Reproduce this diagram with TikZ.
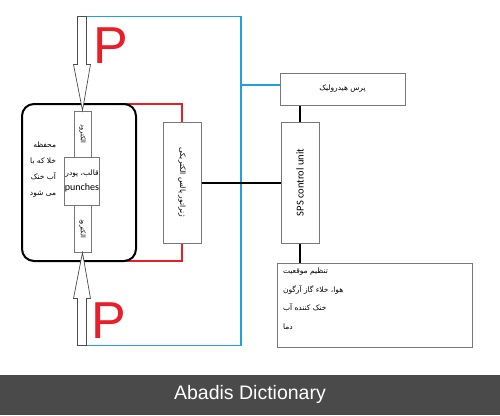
\documentclass[tikz,border=0pt]{standalone}
\usepackage{fontspec}
\setmainfont{Carlito}
\newfontfamily\fafont[Script=Arabic]{DejaVu Sans}
\newfontfamily\bannerfont{Liberation Sans}
\TeXXeTstate=1
\usetikzlibrary{calc}
\definecolor{pipeblue}{RGB}{30,160,225}
\definecolor{pred}{RGB}{232,30,40}
\definecolor{boxgray}{RGB}{120,120,120}
\definecolor{bannergray}{RGB}{74,74,74}
\newcommand{\fa}[1]{{\fafont\beginR #1\endR}}
\tikzset{
  graybox/.style={draw=boxgray, line width=1pt, fill=white, inner sep=0pt},
  blackline/.style={line width=2pt},
  blueline/.style={draw=pipeblue, line width=1.5pt},
  redline/.style={draw=pred, line width=1.4pt},
  hollowarrow/.style={draw=black!70, line width=0.7pt, fill=white},
  fatext/.style={font=\fafont\fontsize{7.5}{9}\selectfont},
  bigp/.style={text=pred, font=\bannerfont\fontsize{52}{52}\selectfont, inner sep=0pt}
}

\begin{document}
\begin{tikzpicture}[x=1pt,y=-1pt]
\useasboundingbox (0,0) rectangle (500,415);
\fill[bannergray] (0,375) rectangle (500,415);
\node[white, font=\bannerfont\fontsize{19.5}{20}\selectfont] (credit) at (250,394) {Abadis Dictionary};

\node[graybox, minimum width=125, minimum height=32] (press) at (342.5,89) {};
\node[fatext] (presstext) at (press) {\fa{پرس هیدرولیک}};
\node[graybox, minimum width=38, minimum height=121] (sps) at (300,182.5) {};
\node[rotate=90, font=\fontsize{10.5}{12}\selectfont] (spstext) at (sps) {SPS control unit};
\node[graybox, minimum width=38, minimum height=121] (gen) at (182,182.5) {};
\node[rotate=-90, fatext] (gentext) at (gen) {\fa{ژنراتور پالس الکتریکی}};
\node[graybox, minimum width=195, minimum height=84] (info) at (374.5,305) {};
\node[font=\fafont\fontsize{7.5}{18.5}\selectfont, align=left, anchor=north west] (infotext) at ($(info.north west)+(3,2)$)
  {\fa{تنظیم موقعیت}\\ \fa{هوا، خلاء گاز آرگون}\\ \fa{خنک کننده آب}\\ \fa{دما}};

\draw[redline] (125,104) -| (gen.north);
\draw[redline] (125,261) -| (gen.south);
\node[draw, line width=2pt, rounded corners=12, minimum width=114, minimum height=157] (chamber) at (79,182.5) {};
\node[font=\fafont\fontsize{7.5}{16}\selectfont, align=right] (chambertext) at (43,170)
  {\fa{محفظه}\\ \fa{خلا که با}\\ \fa{آب خنک}\\ \fa{می شود}};

\node[graybox, minimum width=17, minimum height=46] (uprod) at (82.5,134) {};
\node[rotate=-90, font=\fafont\fontsize{6.5}{7}\selectfont] (uprodtext) at (uprod) {\fa{الکترود}};
\node[graybox, minimum width=17, minimum height=47] (lowrod) at (82.5,228.5) {};
\node[rotate=-90, font=\fafont\fontsize{6.5}{7}\selectfont] (lowrodtext) at (lowrod) {\fa{الکترود}};
\node[graybox, minimum width=32, minimum height=48, align=center] (punch) at (82,181)
  {\fa{\fontsize{7.5}{8}\selectfont قالب، پودر}\\[3pt] \fontsize{10}{12}\selectfont punches};

\draw[hollowarrow] (uprod.north) -- ++(8,-46) -- ++(-4,0) -- ++(0,-48) coordinate (ptop)
  -- ++(-9,0) -- ++(0,48) -- ++(-4,0) -- cycle;
\draw[hollowarrow] (lowrod.south) -- ++(8,46) -- ++(-4,0) -- ++(0,47) coordinate (pbot)
  -- ++(-9,0) -- ++(0,-47) -- ++(-4,0) -- cycle;
\node[bigp] (ptoplabel) at (111,46) {P};
\node[bigp] (pbotlabel) at (109,321) {P};

\coordinate (bluejoin) at (241,85);
\draw[blueline] (ptop) -- (ptop -| bluejoin) -- (pbot -| bluejoin) -- (pbot);
\draw[blueline] (bluejoin) -- (bluejoin -| press.west);

\draw[blackline] (sps.north) -- (sps.north |- press.south);
\draw[blackline] (sps.south) -- (sps.south |- info.north);
\draw[blackline] (gen.east) -- (sps.west);
\end{tikzpicture}
\end{document}
